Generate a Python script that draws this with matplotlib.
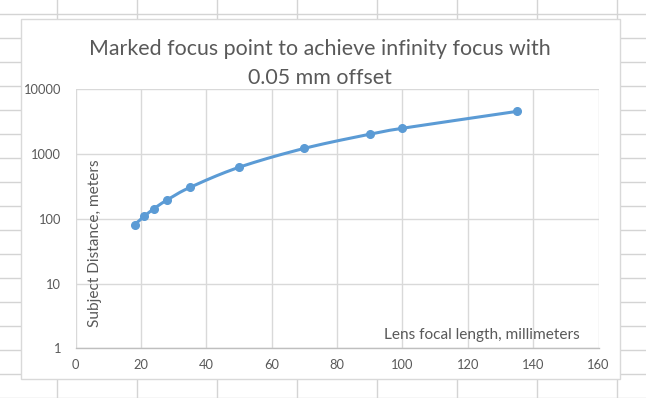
import numpy as np
import matplotlib
matplotlib.use("Agg")
import matplotlib.pyplot as plt
from matplotlib.lines import Line2D
from matplotlib.patches import Rectangle
from matplotlib.ticker import FixedLocator, FixedFormatter

plt.rcParams['font.family'] = ['Lato', 'DejaVu Sans']

# Data
focal_mm = [18, 21, 24, 28, 35, 50, 70, 90, 100, 135]
distance_m = [81, 110, 144, 196, 306, 625, 1225, 2025, 2500, 4556]
x_ticks = [0, 20, 40, 60, 80, 100, 120, 140, 160]
y_ticks = [1, 10, 100, 1000, 10000]
y_tick_labels = ["1", "10", "100", "1000", "10000"]
title_lines = ["Marked focus point to achieve infinity focus with", "0.05 mm offset"]
xlabel = "Lens focal length, millimeters"
ylabel = "Subject Distance, meters"

W, H = 646, 398
fig = plt.figure(figsize=(W / 100, H / 100), dpi=100)

def fx(px):
    return px / W

def fy(py):
    return 1 - py / H

# spreadsheet background grid
grid_c = "#d4d4d4"
for px in np.arange(57.3, W, 80):
    fig.add_artist(Line2D([fx(px), fx(px)], [0, 1], color=grid_c, lw=1, zorder=1))
for py in np.arange(14, H + 1, 24):
    fig.add_artist(Line2D([0, 1], [fy(py), fy(py)], color=grid_c, lw=1, zorder=1))

# chart area
cl, ct, cr, cb = 20.7, 19.3, 620, 379
fig.add_artist(Rectangle((fx(cl), fy(cb)), fx(cr - cl), (cb - ct) / H,
                         facecolor="white", edgecolor="#d9d9d9", lw=1, zorder=2))

# plot area
pl, pt, pr, pb = 75.7, 89.3, 598.5, 348.3
ax = fig.add_axes([fx(pl), fy(pb), fx(pr - pl), (pb - pt) / H], zorder=5)
ax.set_facecolor("none")
ax.set_yscale("log")
ax.set_xlim(0, 160)
ax.set_ylim(1, 10000)
ax.xaxis.set_major_locator(FixedLocator(x_ticks))
ax.yaxis.set_major_locator(FixedLocator(y_ticks))
ax.yaxis.set_major_formatter(FixedFormatter(y_tick_labels))
ax.yaxis.set_minor_locator(FixedLocator([]))
ax.grid(True, color="#d9d9d9", lw=1)
ax.set_axisbelow(True)
for s in ["top", "right", "left"]:
    ax.spines[s].set_visible(False)
ax.spines["bottom"].set_color("#bfbfbf")
ax.spines["bottom"].set_linewidth(1)
ax.tick_params(length=0, labelsize=9.3, labelcolor="#595959")
ax.tick_params(axis="y", pad=10.5)
ax.tick_params(axis="x", pad=8)

# smooth line (Catmull-Rom in x / log10(y) space)
xs = np.array(focal_mm, float)
ys = np.log10(np.array(distance_m, float))
P = np.column_stack([xs, ys])
Pext = np.vstack([P[0], P, P[-1]])
curve = []
t = np.linspace(0, 1, 30)
for i in range(1, len(Pext) - 2):
    p0, p1, p2, p3 = Pext[i - 1], Pext[i], Pext[i + 1], Pext[i + 2]
    c1 = p1 + (p2 - p0) / 6
    c2 = p2 - (p3 - p1) / 6
    seg = ((1 - t) ** 3)[:, None] * p1 + (3 * (1 - t) ** 2 * t)[:, None] * c1 \
        + (3 * (1 - t) * t ** 2)[:, None] * c2 + (t ** 3)[:, None] * p2
    curve.append(seg)
curve = np.vstack(curve)
blue = "#5b9bd5"
ax.plot(curve[:, 0], 10 ** curve[:, 1], color=blue, lw=2.2, solid_capstyle="round", zorder=3)
ax.plot(focal_mm, distance_m, "o", color=blue, ms=5.5, zorder=4)

# title (two lines, placed separately to match line spacing)
for line, py in zip(title_lines, [47, 76]):
    fig.text(fx(320.3), fy(py), line, ha="center", va="center_baseline", fontsize=15.4,
             color="#595959", zorder=6)
# axis titles inside plot area
fig.text(fx(482), fy(335), xlabel, ha="center", va="center", fontsize=11.1,
         color="#595959", zorder=6)
fig.text(fx(95), fy(243), ylabel, ha="center", va="center", rotation=90,
         fontsize=11.1, color="#595959", zorder=6)

fig.savefig("out.png", dpi=100)
